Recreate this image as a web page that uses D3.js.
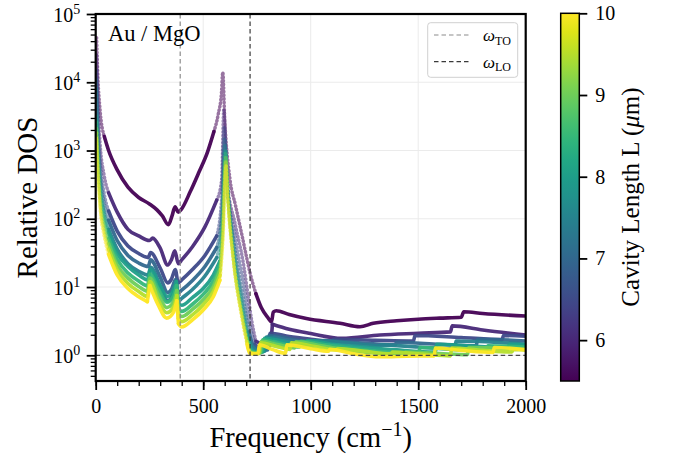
<!DOCTYPE html>
<html>
<head>
<meta charset="utf-8">
<script src="https://cdn.jsdelivr.net/npm/d3@7"></script>
<style>
  body { margin: 0; background: #fff; }
  svg { display: block; }
  text { font-family: "Liberation Serif", "Times New Roman", Times, serif; fill: #000; }
</style>
</head>
<body>
<svg id="chart" width="675" height="460"></svg>
<script>
// Cavity lengths (µm), one DOS curve per length
const cavityLengths = [5.5, 6.0, 6.5, 7.0, 7.5, 8.0, 8.5, 9.0, 9.5, 10.0];

// [frequency (cm^-1), relative DOS] for each cavity length
const dosL55 = [[4,45000],[10,12000],[20,4000],[40,1600],[60,1000],[100,520],[150,290],[200,205],[250,165],[285,135],[310,110],[338,82],[355,110],[369,150],[384,125],[400,140],[440,250],[480,480],[520,950],[550,1900],[570,3400],[585,7000],[591,14000],[600,3000],[625,370],[650,158],[680,58],[700,29],[718,16],[745,8],[770,5],[800,3.6],[818,3.1],[826,4.3],[840,4.5],[900,3.95],[980,3.45],[1136,2.94],[1229,2.62],[1291,2.94],[1400,3.2],[1500,3.38],[1600,3.5],[1700,3.6],[1712,4.35],[1800,4.1],[2000,3.76]];
const dosL60 = [[4,25000],[10,5000],[20,1300],[40,420],[60,240],[100,125],[150,70],[200,56],[250,48],[265,52],[300,37],[335,21],[352,25],[368,34],[384,22],[400,25],[450,39],[508,76],[563,188],[586,370],[596,4000],[609,400],[650,80],[687,22],[710,7],[725,3.3],[745,1.6],[790,1.45],[815,1.5],[822,2.85],[900,2.4],[1000,2.08],[1145,1.77],[1322,1.98],[1500,2.1],[1650,2.2],[1658,2.7],[1800,2.35],[2000,1.98]];
const dosL65 = [[4,15000],[10,2800],[20,750],[40,230],[60,130],[100,66],[150,40],[200,31],[245,27],[255,32],[300,19],[335,11.5],[352,13],[370,18],[384,11.5],[400,12.7],[450,18],[508,29],[563,56],[586,200],[598,2200],[611,350],[650,50],[690,10],[715,3],[740,1.45],[770,1.25],[805,1.27],[811,2.1],[900,1.88],[1000,1.72],[1100,1.6],[1106,1.72],[1300,1.66],[1478,1.62],[1485,1.95],[1700,1.82],[1890,1.7],[1897,1.95],[2000,1.9]];
const dosL70 = [[4,11000],[10,2000],[20,540],[40,165],[60,95],[100,48],[150,29],[200,22.5],[245,20],[255,25],[300,14],[335,8.3],[354,9.5],[372,13],[384,8.2],[400,9],[450,12.5],[508,20],[563,38],[587,130],[600,1500],[613,300],[645,40],[685,7],[712,2.2],[735,1.35],[770,1.2],[800,1.2],[806,1.95],[900,1.75],[1053,1.5],[1059,1.65],[1250,1.5],[1393,1.42],[1399,1.55],[1600,1.45],[1770,1.38],[1776,1.72],[2000,1.62]];
const dosL75 = [[4,8000],[10,1500],[20,400],[40,125],[60,70],[100,36],[150,22],[200,17],[245,15],[255,19.5],[300,10.5],[335,6.3],[355,7.3],[373,10],[385,6.2],[400,6.8],[450,9.2],[508,14.5],[563,27],[587,100],[601,1200],[614,280],[645,35],[685,5.5],[710,1.9],[730,1.3],[760,1.15],[788,1.15],[794,1.85],[900,1.6],[1012,1.42],[1018,1.65],[1200,1.48],[1321,1.38],[1327,1.42],[1500,1.32],[1670,1.25],[1676,1.62],[2000,1.45]];
const dosL80 = [[4,3200],[10,1050],[20,315],[40,115],[60,63],[100,31],[150,20],[200,15],[242,12.8],[253,18],[295,11],[333,7.3],[358,8.6],[375,12],[385,5.8],[400,5.4],[450,7],[500,9.5],[547,15],[578,24],[590,90],[604,1000],[614,260],[642,30],[682,4.8],[708,1.75],[725,1.2],[750,1.12],[779,1.12],[785,1.78],[900,1.5],[978,1.38],[984,1.65],[1100,1.45],[1262,1.3],[1400,1.2],[1580,1.12],[1586,1.45],[1750,1.36],[1918,1.3],[1924,1.45],[2000,1.42]];
const dosL85 = [[4,2600],[10,850],[20,255],[40,94],[60,51],[100,25.5],[150,16],[200,12.2],[241,10.4],[252,15.5],[292,9.3],[331,6],[360,7.2],[376,10.5],[385,4.9],[400,4.4],[450,5.6],[500,7.8],[547,12.2],[578,21],[590,75],[604,900],[614,250],[641,28],[681,4.3],[706,1.65],[722,1.15],[745,1.1],[771,1.1],[777,1.68],[870,1.45],[948,1.32],[954,1.6],[1080,1.4],[1208,1.25],[1350,1.12],[1502,1.05],[1508,1.3],[1650,1.22],[1818,1.15],[1824,1.38],[2000,1.32]];
const dosL90 = [[4,2100],[10,710],[20,213],[40,78],[60,43],[100,21],[150,13.5],[200,10.2],[240,8.7],[252,13.5],[291,7.8],[330,5],[361,6],[377,8.9],[385,4.1],[400,3.7],[450,4.7],[500,6.5],[547,10.2],[578,17.9],[590,65],[605,800],[614,250],[640,27],[680,4],[705,1.6],[720,1.12],[740,1.08],[765,1.08],[771,1.6],[850,1.42],[925,1.28],[931,1.58],[1050,1.38],[1162,1.2],[1300,1.08],[1434,1.0],[1440,1.12],[1600,1.06],[1729,1.02],[1735,1.3],[2000,1.22]];
const dosL95 = [[4,1800],[10,600],[20,179],[40,65],[60,36],[100,17.9],[150,11.3],[200,8.6],[240,7.3],[252,12],[290,6.5],[330,4.2],[362,5.1],[377,7.5],[385,3.45],[400,3.1],[450,3.9],[500,5.5],[547,8.6],[578,15],[591,55],[605,700],[613,250],[640,26],[680,3.8],[705,1.5],[718,1.1],[740,1.06],[760,1.06],[766,1.52],[840,1.35],[904,1.22],[910,1.52],[1020,1.34],[1120,1.2],[1126,1.26],[1250,1.14],[1374,1.05],[1380,1.12],[1520,1.04],[1650,0.98],[1656,1.28],[1800,1.18],[1936,1.12],[1942,1.22],[2000,1.2]];
const dosL100 = [[4,1500],[10,500],[20,150],[40,55],[60,30],[100,15],[150,9.5],[200,7.2],[240,6.1],[252,10.5],[290,5.5],[330,3.5],[362,4.3],[377,6.3],[385,2.9],[400,2.6],[450,3.3],[500,4.6],[547,7.2],[578,12.6],[592,50],[606,600],[612,250],[640,25],[680,3.5],[704,1.45],[716,1.08],[735,1.05],[755,1.05],[761,1.42],[820,1.22],[883,1.07],[889,1.42],[1000,1.25],[1083,1.15],[1089,1.22],[1200,1.05],[1323,0.95],[1450,0.97],[1574,0.98],[1580,1.28],[1700,1.18],[1848,1.1],[1854,1.3],[2000,1.2]];

const dosSeries = [dosL55, dosL60, dosL65, dosL70, dosL75, dosL80, dosL85, dosL90, dosL95, dosL100];

// Axis ticks and reference lines
const xTickValues = [0, 500, 1000, 1500, 2000];
const yTickExponents = [0, 1, 2, 3, 4, 5];
const colorbarTicks = [6, 7, 8, 9, 10];
const omegaTO = 393;   // MgO transverse optical phonon (cm^-1)
const omegaLO = 718;   // MgO longitudinal optical phonon (cm^-1)
const legendItems = [
  { sub: "TO", color: "#8c8c8c" },
  { sub: "LO", color: "#3a3a3a" }
];

const svg = d3.select("#chart");
const plot = { left: 95.7, right: 525.7, top: 14, bottom: 381 };

const x = d3.scaleLinear().domain([0, 2000]).range([plot.left, plot.right]);
const y = d3.scaleLog().domain([0.42, 1e5]).range([plot.bottom, plot.top]);
const lengthScale = d3.scaleLinear().domain([5.5, 10]).range([0, 1]);
const color = L => d3.interpolateViridis(lengthScale(L));

// grid
const grid = svg.append("g");
xTickValues.forEach(v => {
  grid.append("line").attr("x1", x(v)).attr("x2", x(v)).attr("y1", plot.top).attr("y2", plot.bottom)
    .attr("stroke", "#ebebeb").attr("stroke-width", 1);
});
yTickExponents.forEach(e => {
  grid.append("line").attr("x1", plot.left).attr("x2", plot.right).attr("y1", y(Math.pow(10, e))).attr("y2", y(Math.pow(10, e)))
    .attr("stroke", "#ebebeb").attr("stroke-width", 1);
});

// curves: gently sloped stretches drawn solid, very steep stretches drawn as faint dots
const defs = svg.append("defs");
defs.append("clipPath").attr("id", "plotClip")
  .append("rect").attr("x", plot.left).attr("y", plot.top)
  .attr("width", plot.right - plot.left).attr("height", plot.bottom - plot.top);

const line = d3.line().x(d => x(d[0])).y(d => y(d[1])).curve(d3.curveMonotoneX);

function splitRuns(pts) {
  const steepSeg = [];
  for (let i = 0; i < pts.length - 1; i++) {
    const dx = Math.abs(x(pts[i + 1][0]) - x(pts[i][0]));
    const dy = Math.abs(y(pts[i + 1][1]) - y(pts[i][1]));
    steepSeg.push(dy > 15 && dy / Math.max(dx, 0.01) > 3.5);
  }
  const runs = [];
  let start = 0;
  for (let i = 1; i <= steepSeg.length; i++) {
    if (i === steepSeg.length || steepSeg[i] !== steepSeg[start]) {
      const seg = pts.slice(start, i + 1);
      const span = d3.max(seg, d => y(d[1])) - d3.min(seg, d => y(d[1]));
      runs.push({ pts: seg, steep: steepSeg[start] && span > 30 });
      start = i;
    }
  }
  return runs;
}

const curves = svg.append("g").attr("clip-path", "url(#plotClip)");
dosSeries.forEach((pts, i) => {
  const c = color(cavityLengths[i]);
  const g = curves.append("g");
  splitRuns(pts).forEach(run => {
    const p = g.append("path").attr("d", line(run.pts)).attr("fill", "none")
      .attr("stroke", c).attr("stroke-linejoin", "round").attr("stroke-linecap", "round");
    if (run.steep) {
      p.attr("stroke-width", 3.5).attr("stroke-opacity", 0.55).attr("stroke-dasharray", "0.6,3");
    } else {
      p.attr("stroke-width", 3.6).attr("stroke-opacity", 0.95);
    }
  });
});

// reference lines
const refs = svg.append("g");
refs.append("line").attr("x1", x(omegaTO)).attr("x2", x(omegaTO)).attr("y1", plot.top).attr("y2", plot.bottom)
  .attr("stroke", legendItems[0].color).attr("stroke-width", 1.2).attr("stroke-dasharray", "4.5,3");
refs.append("line").attr("x1", x(omegaLO)).attr("x2", x(omegaLO)).attr("y1", plot.top).attr("y2", plot.bottom)
  .attr("stroke", legendItems[1].color).attr("stroke-width", 1.2).attr("stroke-dasharray", "4.5,3");
refs.append("line").attr("x1", plot.left).attr("x2", plot.right).attr("y1", y(1)).attr("y2", y(1))
  .attr("stroke", "#4a4a4a").attr("stroke-width", 1.2).attr("stroke-dasharray", "4.5,3");

// axes
const xMinor = svg.append("g").attr("transform", `translate(0,${plot.bottom})`);
xMinor.call(d3.axisBottom(x).tickValues(d3.range(0, 2001, 100)).tickSize(5).tickFormat(""));
xMinor.selectAll(".tick line").attr("stroke-width", 1.3);
const xMajor = svg.append("g").attr("transform", `translate(0,${plot.bottom})`);
xMajor.call(d3.axisBottom(x).tickValues(xTickValues).tickSize(9).tickPadding(9).tickFormat(d3.format("d")));
xMajor.selectAll(".tick line").attr("stroke-width", 1.8);
xMajor.selectAll(".tick text").attr("font-size", 20).attr("font-family", "Liberation Serif");

const yMinorVals = [];
for (let e = -1; e < 5; e++) for (let k = 2; k <= 9; k++) {
  const v = k * Math.pow(10, e);
  if (v >= 0.42 && v <= 1e5) yMinorVals.push(v);
}
const yMinor = svg.append("g").attr("transform", `translate(${plot.left},0)`);
yMinor.call(d3.axisLeft(y).tickValues(yMinorVals).tickSize(5).tickFormat(""));
yMinor.selectAll(".tick line").attr("stroke-width", 1.3);
const yMajor = svg.append("g").attr("transform", `translate(${plot.left},0)`);
yMajor.call(d3.axisLeft(y).tickValues(yTickExponents.map(e => Math.pow(10, e))).tickSize(9).tickFormat(""));
yMajor.selectAll(".tick line").attr("stroke-width", 1.8);
yMajor.selectAll(".tick").each(function(d, i) {
  const t = d3.select(this).append("text").attr("x", -15.5).attr("y", 7).attr("text-anchor", "end")
    .attr("font-size", 20).attr("fill", "#000");
  t.append("tspan").text("10");
  t.append("tspan").attr("font-size", 14).attr("dy", -8).text(yTickExponents[i]);
});
svg.selectAll(".domain").remove();

// frame
svg.append("rect").attr("x", plot.left).attr("y", plot.top)
  .attr("width", plot.right - plot.left).attr("height", plot.bottom - plot.top)
  .attr("fill", "none").attr("stroke", "#000").attr("stroke-width", 2.2);

// axis titles
const xt = svg.append("text").attr("x", (plot.left + plot.right) / 2).attr("y", 447)
  .attr("text-anchor", "middle").attr("font-size", 28.5);
xt.append("tspan").text("Frequency (cm");
xt.append("tspan").attr("font-size", 20).attr("dy", -11).text("\u22121");
xt.append("tspan").attr("dy", 11).text(")");

svg.append("text").attr("transform", `translate(37,${(plot.top + plot.bottom) / 2}) rotate(-90)`)
  .attr("text-anchor", "middle").attr("font-size", 29).text("Relative DOS");

// annotation
svg.append("text").attr("x", 108).attr("y", 40.5).attr("font-size", 22.5).text("Au / MgO");

// legend
const lg = svg.append("g");
lg.append("rect").attr("x", 427.7).attr("y", 22.7).attr("width", 90).attr("height", 54.6).attr("rx", 3)
  .attr("fill", "#fff").attr("fill-opacity", 0.85).attr("stroke", "#d0d0d0").attr("stroke-width", 1);
legendItems.forEach((it, i) => {
  const ly = 35 + i * 26.7;
  lg.append("line").attr("x1", 434).attr("x2", 469).attr("y1", ly).attr("y2", ly)
    .attr("stroke", it.color).attr("stroke-width", 1.2).attr("stroke-dasharray", "4.5,3");
  const t = lg.append("text").attr("x", 483).attr("y", ly + 6).attr("font-size", 17);
  t.append("tspan").attr("font-style", "italic").text("\u03c9");
  t.append("tspan").attr("font-size", 12).attr("dy", 3.5).text(it.sub);
});

// colorbar
const cb = { x: 560.7, w: 18.6, top: 13.3, bottom: 381 };
const cbScale = d3.scaleLinear().domain([5.5, 10]).range([cb.bottom, cb.top]);
const grad = defs.append("linearGradient").attr("id", "viridisGrad")
  .attr("x1", 0).attr("y1", 1).attr("x2", 0).attr("y2", 0);
d3.range(0, 1.0001, 0.05).forEach(s => {
  grad.append("stop").attr("offset", s).attr("stop-color", d3.interpolateViridis(s));
});
svg.append("rect").attr("x", cb.x).attr("y", cb.top).attr("width", cb.w).attr("height", cb.bottom - cb.top)
  .attr("fill", "url(#viridisGrad)").attr("stroke", "#000").attr("stroke-width", 1.5);
const cbAxis = svg.append("g").attr("transform", `translate(${cb.x + cb.w},0)`);
cbAxis.call(d3.axisRight(cbScale).tickValues(colorbarTicks).tickSize(8).tickPadding(8).tickFormat(d3.format("d")));
cbAxis.selectAll(".tick line").attr("stroke-width", 1.8);
cbAxis.selectAll(".tick text").attr("font-size", 20).attr("font-family", "Liberation Serif");
cbAxis.select(".domain").remove();

const cbt = svg.append("text").attr("transform", `translate(639,197) rotate(-90)`)
  .attr("text-anchor", "middle").attr("font-size", 25);
cbt.append("tspan").text("Cavity Length L (");
cbt.append("tspan").attr("font-style", "italic").text("\u03bc");
cbt.append("tspan").text("m)");
</script>
</body>
</html>
